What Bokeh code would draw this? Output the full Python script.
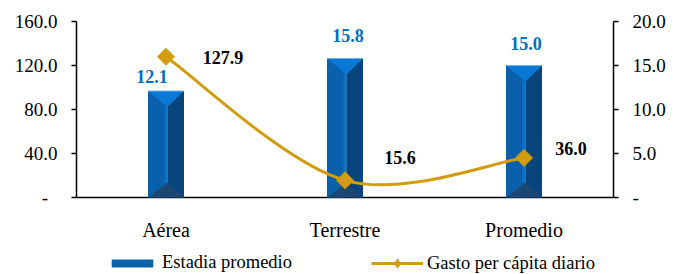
from bokeh.plotting import figure
from bokeh.models import Range1d, LinearAxis, FixedTicker, Legend, LegendItem
from bokeh.core.properties import value
from bokeh.embed import file_html
from bokeh.resources import INLINE

# ---- data ----
categories = ["Aérea", "Terrestre", "Promedio"]
estadia = [12.1, 15.8, 15.0]          # right axis (bars)
gasto = [127.9, 15.6, 36.0]           # left axis (line)
left_ticks = [0, 40, 80, 120, 160]
left_tick_labels = ["-\u00a0\u00a0", "40.0", "80.0", "120.0", "160.0"]
right_ticks = [0, 5, 10, 15, 20]
right_tick_labels = ["-", "5.0", "10.0", "15.0", "20.0"]
bar_label_text = ["12.1", "15.8", "15.0"]
line_label_text = ["127.9", "15.6", "36.0"]

FONT = "'Liberation Serif', 'Times New Roman', Times, 'DejaVu Serif', serif"
GOLD = "#D39C0C"

W, H = 682, 274
BL, BR, BT = 76, 69, 21
AXIS_GAP = 77                      # px between the zero line and the bottom edge
frame_w = W - BL - BR
frame_h = H - BT                   # frame reaches the bottom edge
plot_h = frame_h - AXIS_GAP        # height used by the value scale

L_MAX, R_MAX = 160.0, 20.0
l_start = -AXIS_GAP * L_MAX / plot_h
r_start = -AXIS_GAP * R_MAX / plot_h

p = figure(width=W, height=H, x_range=Range1d(0, 3), y_range=Range1d(l_start, L_MAX),
           output_backend="svg", toolbar_location=None, x_axis_location=None,
           min_border_left=BL, min_border_right=BR, min_border_top=BT, min_border_bottom=0)
p.extra_y_ranges = {"right": Range1d(r_start, R_MAX)}
p.xgrid.visible = False
p.ygrid.visible = False
p.outline_line_color = None
p.background_fill_color = "white"

n = len(categories)
xc = [i + 0.5 for i in range(n)]

# left axis
ya = p.yaxis[0]
ya.bounds = (0, L_MAX)
ya.ticker = FixedTicker(ticks=left_ticks)
ya.major_label_overrides = {t: l for t, l in zip(left_ticks, left_tick_labels)}
ya.major_tick_out = 5
ya.major_tick_in = 0
ya.minor_tick_out = 0
ya.minor_tick_in = 0
ya.axis_line_color = "black"
ya.axis_line_width = 1.5
ya.major_tick_line_color = "black"
ya.major_tick_line_width = 1.5
ya.major_label_text_font = FONT
ya.major_label_text_font_size = "19px"
ya.major_label_text_color = "black"
ya.major_label_standoff = 14

# right axis
ra = LinearAxis(y_range_name="right")
ra.bounds = (0, R_MAX)
ra.ticker = FixedTicker(ticks=right_ticks)
ra.major_label_overrides = {t: l for t, l in zip(right_ticks, right_tick_labels)}
ra.major_tick_out = 5
ra.major_tick_in = 0
ra.minor_tick_out = 0
ra.minor_tick_in = 0
ra.axis_line_color = "black"
ra.axis_line_width = 1.5
ra.major_tick_line_color = "black"
ra.major_tick_line_width = 1.5
ra.major_label_text_font = FONT
ra.major_label_text_font_size = "19px"
ra.major_label_text_color = "black"
ra.major_label_standoff = 14
p.add_layout(ra, "right")

# ---- category (x) axis line and labels ----
p.segment(x0=[0], y0=[0], x1=[3], y1=[0], line_color="black", line_width=1.5)
p.text(x=xc, y=[0] * n, text=categories, y_offset=32,
       text_font=value(FONT), text_font_size="20px", text_color="black",
       text_align="center", text_baseline="alphabetic")

# ---- bevelled bars (right axis) ----
ux = 3.0 / frame_w
uy = R_MAX / plot_h
hw = 18 * ux
d_top = 16 * uy
d_bot = 15 * uy
sw = 3 * ux
sh = 1.5 * ux          # ridge sits slightly right of centre

left_xs, left_ys, right_xs, right_ys = [], [], [], []
top_xs, top_ys, bot_xs, bot_ys, str_xs, str_ys = [], [], [], [], [], []
for c, v in zip(xc, estadia):
    m = c + sh
    left_xs.append([c - hw, c - hw, m, m]); left_ys.append([0, v, v, 0])
    right_xs.append([m, m, c + hw, c + hw]); right_ys.append([0, v, v, 0])
    str_xs.append([m - sw, m - sw, m, m]); str_ys.append([d_bot, v - d_top, v - d_top, d_bot])
    top_xs.append([c - hw, c + hw, m]); top_ys.append([v, v, v - d_top])
    bot_xs.append([c - hw, c + hw, m]); bot_ys.append([0, 0, d_bot])

left_r = p.patches(left_xs, left_ys, fill_color="#0A60AA", line_color=None, y_range_name="right")
p.patches(right_xs, right_ys, fill_color="#07457C", line_color=None, y_range_name="right")
p.patches(str_xs, str_ys, fill_color="#0B72C6", line_color=None, y_range_name="right")
p.patches(top_xs, top_ys, fill_color="#0A79D5", line_color=None, y_range_name="right")
p.patches(bot_xs, bot_ys, fill_color="#1A4773", line_color=None, y_range_name="right")
p.segment(x0=[c - hw for c in xc], y0=estadia, x1=[c + hw for c in xc], y1=estadia,
          line_color="#6FB2EA", line_width=1, y_range_name="right")

# ---- smoothed line (left axis) ----
pts = list(zip(xc, gasto))
bx0, by0, bx1, by1, cx0, cy0, cx1, cy1 = [], [], [], [], [], [], [], []
for i in range(n - 1):
    pp = pts[max(i - 1, 0)]
    p0 = pts[i]
    p1 = pts[i + 1]
    pn = pts[min(i + 2, n - 1)]
    bx0.append(p0[0]); by0.append(p0[1]); bx1.append(p1[0]); by1.append(p1[1])
    cx0.append(p0[0] + (p1[0] - pp[0]) / 6.0); cy0.append(p0[1] + (p1[1] - pp[1]) / 6.0)
    cx1.append(p1[0] - (pn[0] - p0[0]) / 6.0); cy1.append(p1[1] - (pn[1] - p0[1]) / 6.0)
line_r = p.bezier(x0=bx0, y0=by0, x1=bx1, y1=by1, cx0=cx0, cy0=cy0, cx1=cx1, cy1=cy1,
                  line_color=GOLD, line_width=3)
mark_r = p.scatter(xc, gasto, marker="square", angle=0.785398, size=12,
                   fill_color=GOLD, line_color=GOLD)
# legend proxy: zero-size diamonds at the same points (invisible in the plot)
mark_leg = p.scatter(xc, gasto, marker="diamond", size=0,
                     fill_color=GOLD, line_color=None)

# ---- data labels ----
p.text(x=xc, y=estadia, text=bar_label_text, y_range_name="right",
       x_offset=[-14, 3, 2], y_offset=[-15, -23, -22],
       text_font=value(FONT), text_font_style="bold", text_font_size="18px",
       text_color="#0070C0", text_align="center", text_baseline="middle")
p.text(x=xc, y=gasto, text=line_label_text,
       x_offset=[57, 55, 47], y_offset=[1, -23, -9],
       text_font=value(FONT), text_font_style="bold", text_font_size="18px",
       text_color="black", text_align="center", text_baseline="middle")

# ---- legends (inside the frame, below the zero line) ----
common = dict(padding=0, margin=0, spacing=0, border_line_color=None,
              background_fill_alpha=0, label_text_font=FONT,
              label_text_font_size="18.5px", label_text_color="black",
              label_standoff=4, glyph_width=52, label_height=20)
leg1 = Legend(items=[LegendItem(label="Estadia promedio", renderers=[left_r])],
              location=(30, 1), glyph_height=10, **common)
leg2 = Legend(items=[LegendItem(label="Gasto per cápita diario", renderers=[line_r, mark_leg])],
              location=(295, -2), glyph_height=26, **common)
p.add_layout(leg1)
p.add_layout(leg2)

open("out.html", "w").write(file_html(p, INLINE))
